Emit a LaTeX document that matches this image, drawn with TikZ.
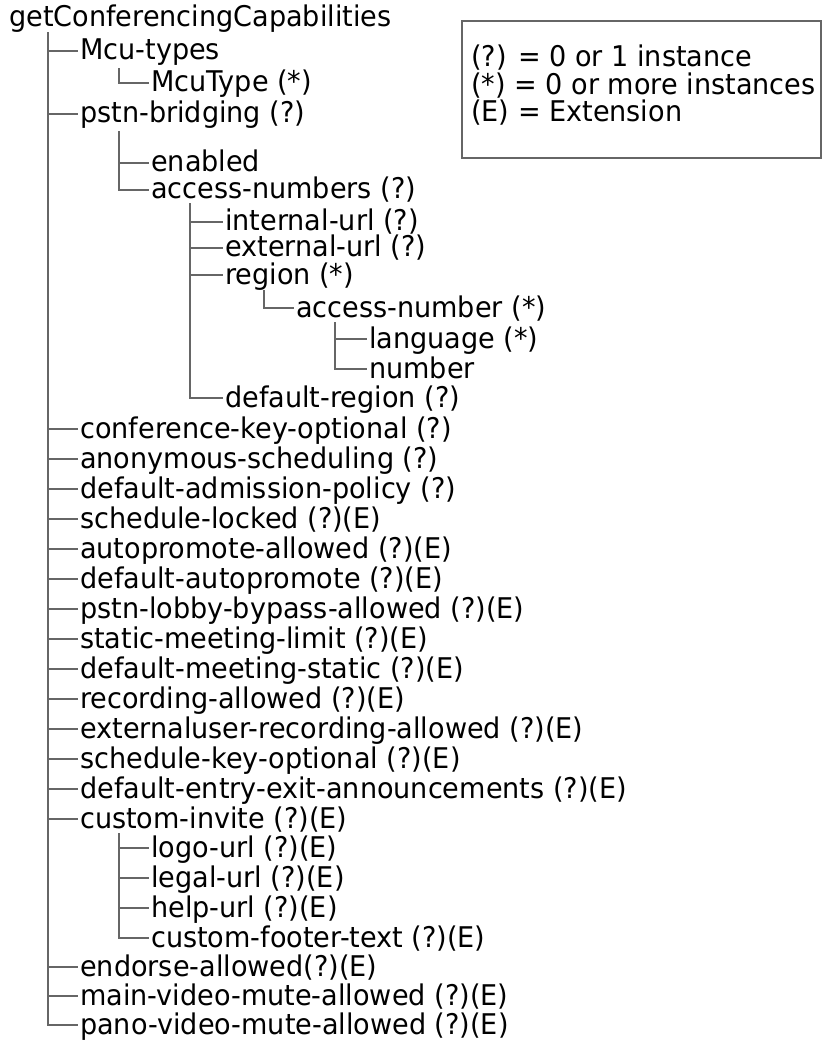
\documentclass[tikz,border=0pt]{standalone}
\usepackage{fontspec}
\setmainfont{DejaVu Sans}[FakeStretch=0.95]

\begin{document}
\begin{tikzpicture}[x=1pt, y=-1pt,
                    item/.style={anchor=west, inner xsep=2pt, inner ysep=0pt,
                                 text height=20pt, text depth=2pt},
                    branch/.style={draw=black!60, line width=1.7pt},
                    frame/.style={draw=black!60, line width=1.5pt}
                   ]
\fontsize{28.5}{30}\selectfont
\useasboundingbox (0,0) rectangle (828,1040);
\pgfmathsetmacro{\dx}{41}
\pgfmathsetmacro{\dy}{30}

% legend
\draw [frame] (462,21) rectangle (821,158);
\node [anchor=north west, inner sep=0pt, align=left, font=\fontsize{28.5}{27.5}\selectfont]
      (legend) at (471,45) {(?) = 0 or 1 instance\\(*) = 0 or more instances\\(E) = Extension};

% tree
\node [item] (root) at (7,18) {getConferencingCapabilities};
\node [item] (mcutypes) at (78,51) {Mcu-types};
\node [item] (mcutype) at (149,83) {McuType (*)};
\node [item] (pstn) at (78,114) {pstn-bridging (?)};
\node [item] (enabled) at (149,163) {enabled};
\node [item] (accessnums) at (149,190) {access-numbers (?)};
\node [item] (internal) at (223,222) {internal-url (?)};
\node [item] (external) at (223,248) {external-url (?)};
\node [item] (region) at (223,275) {region (*)};
\node [item] (accessnum) at (294,308) {access-number (*)};
\node [item] (language) at (367,339) {language (*)};
\node [item] (number) at (367,369) {number};
\node [item] (defregion) at (223,398) {default-region (?)};

\foreach \name/\txt [count=\k from 0, evaluate={\ypos=429+\dy*\k;}] in {
        confkey/{conference-key-optional (?)},
        anonsched/{anonymous-scheduling (?)},
        admission/{default-admission-policy (?)},
        schedlocked/{schedule-locked (?)(E)},
        autoallowed/{autopromote-allowed (?)(E)},
        defauto/{default-autopromote (?)(E)},
        lobby/{pstn-lobby-bypass-allowed (?)(E)},
        staticlimit/{static-meeting-limit (?)(E)},
        defstatic/{default-meeting-static (?)(E)},
        recording/{recording-allowed (?)(E)},
        extrecording/{externaluser-recording-allowed (?)(E)},
        schedkey/{schedule-key-optional (?)(E)},
        announce/{default-entry-exit-announcements (?)(E)},
        invite/{custom-invite (?)(E)}}{
    \node [item] (\name) at (78,\ypos) {\txt};
}
\foreach \name/\txt [count=\k from 0, evaluate={\ypos=848+\dy*\k;}] in {
        logo/{logo-url (?)(E)},
        legal/{legal-url (?)(E)},
        help/{help-url (?)(E)},
        footer/{custom-footer-text (?)(E)}}{
    \node [item] (\name) at (149,\ypos) {\txt};
}
\node [item] (endorse) at (78,967) {endorse-allowed(?)(E)};
\node [item] (mainvideo) at (78,996) {main-video-mute-allowed (?)(E)};
\node [item] (panovideo) at (78,1025) {pano-video-mute-allowed (?)(E)};

% connectors
\foreach \kid in {mcutypes,pstn,confkey,anonsched,admission,schedlocked,
                  autoallowed,defauto,lobby,staticlimit,defstatic,recording,
                  extrecording,schedkey,announce,invite,endorse,mainvideo,panovideo}
    \draw [branch] ([xshift=\dx pt,yshift=-3pt]root.south west) |- (\kid.west);
\draw [branch] ([xshift=\dx pt,yshift=-6pt]mcutypes.south west) |- (mcutype.west);
\foreach \kid in {enabled,accessnums}
    \draw [branch] ([xshift=\dx pt,yshift=-6pt]pstn.south west) |- (\kid.west);
\foreach \kid in {internal,external,region,defregion}
    \draw [branch] ([xshift=\dx pt,yshift=-2pt]accessnums.south west) |- (\kid.west);
\draw [branch] ([xshift=\dx pt,yshift=-4pt]region.south west) |- (accessnum.west);
\foreach \kid in {language,number}
    \draw [branch] ([xshift=\dx pt,yshift=-3pt]accessnum.south west) |- (\kid.west);
\foreach \kid in {logo,legal,help,footer}
    \draw [branch] ([xshift=\dx pt,yshift=-3pt]invite.south west) |- (\kid.west);
\end{tikzpicture}
\end{document}
